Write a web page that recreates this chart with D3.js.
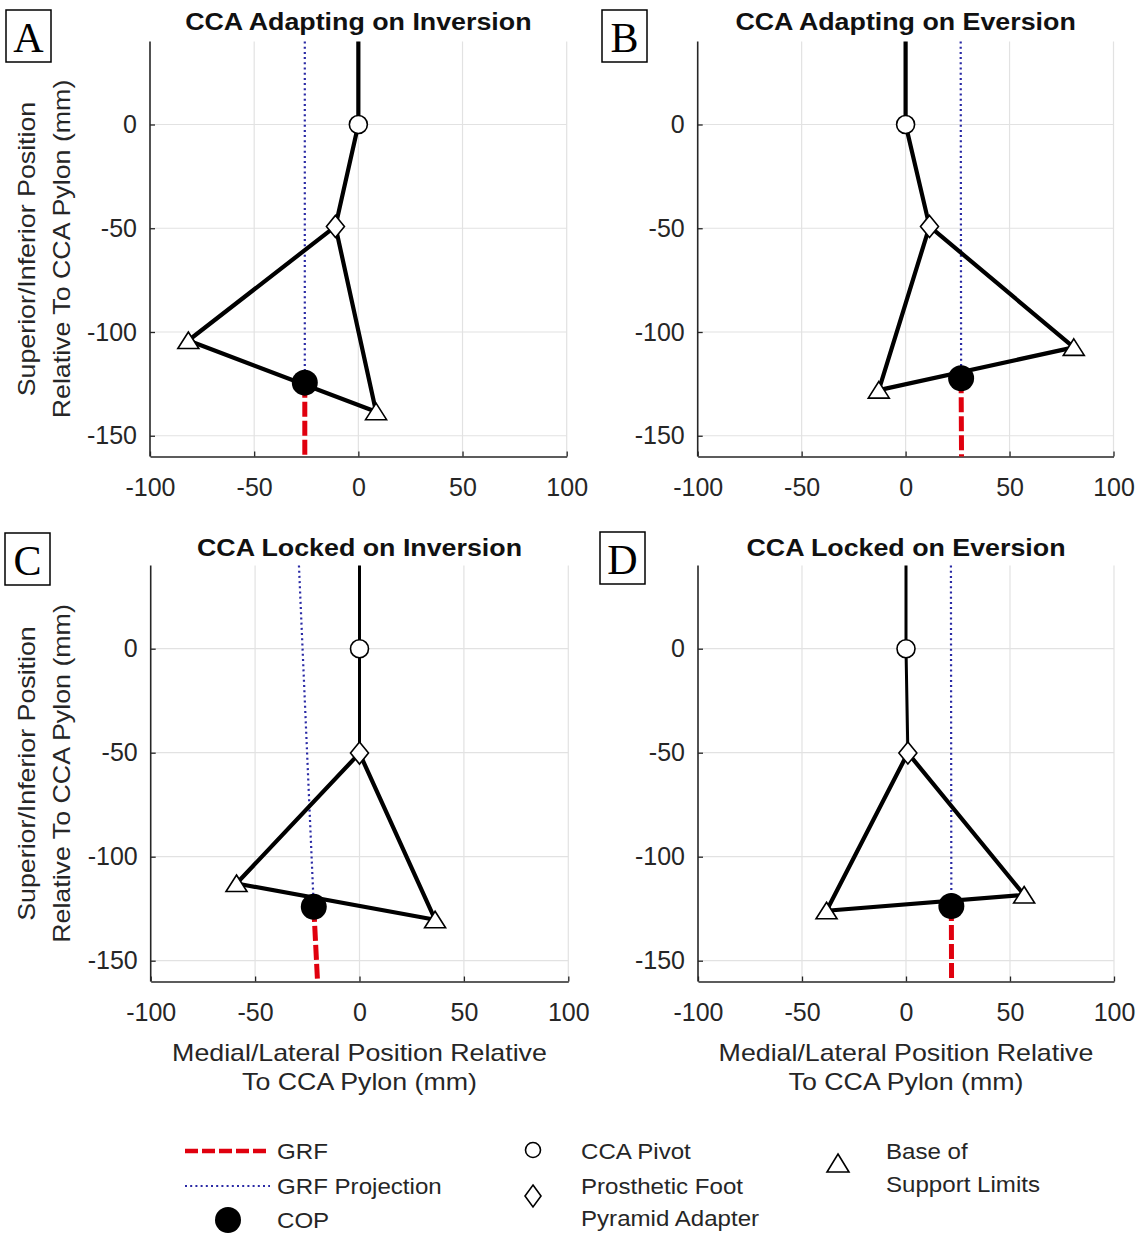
<!DOCTYPE html>
<html><head><meta charset="utf-8">
<script src="https://cdn.jsdelivr.net/npm/d3@7"></script>
<style>body{margin:0;background:#fff} svg{display:block}</style>
</head><body>
<svg id="chart" width="1139" height="1233"></svg>
<script>
// ---------------- data ----------------
const panelLetters = ["A", "B", "C", "D"];
const panelTitles = ["CCA Adapting on Inversion", "CCA Adapting on Eversion",
                     "CCA Locked on Inversion", "CCA Locked on Eversion"];
const pylonTopY = [40, 40, 40, 40];
const pivotX = [0, 0, 0, 0];
const pivotY = [0, 0, 0, 0];
const adapterX = [-11.0, 11.5, 0.0, 0.9];
const adapterY = [-49.1, -49.1, -50.2, -50.1];
const baseLeftX = [-81.6, -12.9, -58.9, -38.2];
const baseLeftY = [-104.1, -128.0, -112.9, -126.0];
const baseRightX = [8.5, 80.9, 36.2, 56.8];
const baseRightY = [-138.4, -107.4, -130.3, -118.4];
const copX = [-25.7, 26.7, -21.9, 21.8];
const copY = [-124.4, -122.3, -124.1, -123.7];
const grfTopX = [-25.7, 26.5, -29.0, 21.6];     // GRF projection where it leaves the top of the axes
const grfBottomX = [-25.7, 26.9, -20.1, 21.9];  // GRF where it leaves the bottom of the axes
const xDomain = [-100, 100];
const yDomain = [-160, 40];
const xTicks = [-100, -50, 0, 50, 100];
const yTicks = [-150, -100, -50, 0];
const yLabelLines = ["Superior/Inferior Position", "Relative To CCA Pylon (mm)"];
const xLabelLines = ["Medial/Lateral Position Relative", "To CCA Pylon (mm)"];
const legendCol1 = ["GRF", "GRF Projection", "COP"];
const legendCol2 = ["CCA Pivot", "Prosthetic Foot", "Pyramid Adapter"];
const legendCol3 = ["Base of", "Support Limits"];

// ---------------- layout ----------------
const layout = [
  {x0: 150,   x1: 566.7,  y0: 456.5, y1: 41.5,  ylab: true,  xlab: false, box: [6, 10],   titleY: 30,  pylonW: 4.2},
  {x0: 697.7, x1: 1113.5, y0: 456.5, y1: 41.5,  ylab: false, xlab: false, box: [602, 10], titleY: 30,  pylonW: 4.2},
  {x0: 150.7, x1: 568.3,  y0: 981.5, y1: 565.5, ylab: true,  xlab: true,  box: [5, 533],  titleY: 556, pylonW: 3},
  {x0: 698,   x1: 1114,   y0: 981.5, y1: 565.5, ylab: false, xlab: true,  box: [600, 532], titleY: 556, pylonW: 3}
];

const SANS = "'Liberation Sans', Arial, Helvetica, sans-serif";
const TXT = "#262626";
const RED = "#e0000e";
const BLUE = "#2a2aa5";
const svg = d3.select("#chart");

function stretch(sel, k) {
  sel.each(function () {
    const L = this.getComputedTextLength();
    this.setAttribute("textLength", (L * k).toFixed(1));
    this.setAttribute("lengthAdjust", "spacingAndGlyphs");
  });
}

const triPath = "M0,-8.5L10.5,8L-10.5,8Z";
const diaPath = "M0,-11L9,0L0,11L-9,0Z";
const fmt = d => String(d);

panelLetters.forEach((letter, i) => {
  const L = layout[i];
  const x = d3.scaleLinear().domain(xDomain).range([L.x0, L.x1]);
  const y = d3.scaleLinear().domain(yDomain).range([L.y0, L.y1]);
  const g = svg.append("g");

  // grid
  g.append("g").selectAll("line").data(xTicks.filter(t => t !== xDomain[0])).join("line")
    .attr("x1", d => x(d)).attr("x2", d => x(d)).attr("y1", y(yDomain[0])).attr("y2", y(yDomain[1]))
    .attr("stroke", "#e2e2e2").attr("stroke-width", 1.2);
  g.append("g").selectAll("line").data(yTicks).join("line")
    .attr("x1", x(xDomain[0])).attr("x2", x(xDomain[1])).attr("y1", d => y(d)).attr("y2", d => y(d))
    .attr("stroke", "#e2e2e2").attr("stroke-width", 1.2);

  // axes
  const ax = g.append("g").attr("transform", `translate(0,${L.y0})`)
    .call(d3.axisBottom(x).tickValues(xTicks).tickFormat(fmt).tickSizeInner(-5).tickSizeOuter(0).tickPadding(22));
  const ay = g.append("g").attr("transform", `translate(${L.x0},0)`)
    .call(d3.axisLeft(y).tickValues(yTicks).tickFormat(fmt).tickSizeInner(-5).tickSizeOuter(0).tickPadding(13));
  [ax, ay].forEach(a => {
    a.select(".domain").attr("stroke", TXT).attr("stroke-width", 1.6);
    a.selectAll(".tick line").attr("stroke", TXT).attr("stroke-width", 1.3);
    a.selectAll(".tick text").attr("fill", TXT).style("font-family", SANS).style("font-size", "25px");
  });
  ay.select(".domain").attr("d", `M0,${L.y0}V${L.y1}`);

  // GRF projection (dotted blue)
  g.append("line")
    .attr("x1", x(grfTopX[i])).attr("y1", y(yDomain[1]))
    .attr("x2", x(copX[i])).attr("y2", y(copY[i]))
    .attr("stroke", BLUE).attr("stroke-width", 2.2).attr("stroke-dasharray", "2,3.2");
  // GRF (dashed red)
  g.append("line")
    .attr("x1", x(copX[i])).attr("y1", y(copY[i]))
    .attr("x2", x(grfBottomX[i])).attr("y2", y(yDomain[0]))
    .attr("stroke", RED).attr("stroke-width", 5).attr("stroke-dasharray", "15,4");

  const line = d3.line().x(d => x(d[0])).y(d => y(d[1]));
  // pylon
  g.append("path")
    .attr("d", line([[pivotX[i], pylonTopY[i]], [pivotX[i], pivotY[i]], [adapterX[i], adapterY[i]]]))
    .attr("fill", "none").attr("stroke", "#000").attr("stroke-width", L.pylonW).attr("stroke-linejoin", "round");
  // base of support triangle
  g.append("path")
    .attr("d", line([[adapterX[i], adapterY[i]], [baseLeftX[i], baseLeftY[i]], [baseRightX[i], baseRightY[i]]]) + "Z")
    .attr("fill", "none").attr("stroke", "#000").attr("stroke-width", 4.2).attr("stroke-linejoin", "round");

  // markers
  g.append("circle").attr("cx", x(pivotX[i])).attr("cy", y(pivotY[i])).attr("r", 9)
    .attr("fill", "#fff").attr("stroke", "#000").attr("stroke-width", 1.6);
  g.append("path").attr("d", diaPath).attr("transform", `translate(${x(adapterX[i])},${y(adapterY[i])})`)
    .attr("fill", "#fff").attr("stroke", "#000").attr("stroke-width", 1.6);
  [[baseLeftX[i], baseLeftY[i]], [baseRightX[i], baseRightY[i]]].forEach(p => {
    g.append("path").attr("d", triPath).attr("transform", `translate(${x(p[0])},${y(p[1])})`)
      .attr("fill", "#fff").attr("stroke", "#000").attr("stroke-width", 1.6).attr("stroke-linejoin", "miter");
  });
  g.append("circle").attr("cx", x(copX[i])).attr("cy", y(copY[i])).attr("r", 13).attr("fill", "#000");

  // title
  const cx = (L.x0 + L.x1) / 2;
  g.append("text").attr("x", cx).attr("y", L.titleY).attr("text-anchor", "middle")
    .style("font-family", SANS).style("font-size", "23px").style("font-weight", "bold").attr("fill", "#111")
    .text(panelTitles[i]).call(stretch, 1.165);

  // panel letter box
  g.append("rect").attr("x", L.box[0]).attr("y", L.box[1]).attr("width", 45).attr("height", 52)
    .attr("fill", "#fff").attr("stroke", "#000").attr("stroke-width", 1.5);
  g.append("text").attr("x", L.box[0] + 22.5).attr("y", L.box[1] + 42).attr("text-anchor", "middle")
    .style("font-family", "'Liberation Serif', 'Times New Roman', serif").style("font-size", "42px")
    .attr("fill", "#000").text(letter);

  // y label
  if (L.ylab) {
    const cy = (L.y0 + L.y1) / 2;
    [35, 70].forEach((bx, j) => {
      g.append("text").attr("transform", `translate(${bx},${cy}) rotate(-90)`).attr("text-anchor", "middle")
        .style("font-family", SANS).style("font-size", "24px").attr("fill", TXT)
        .text(yLabelLines[j]).call(stretch, 1.115);
    });
  }
  // x label
  if (L.xlab) {
    [L.y0 + 79.5, L.y0 + 108].forEach((by, j) => {
      g.append("text").attr("x", cx).attr("y", by).attr("text-anchor", "middle")
        .style("font-family", SANS).style("font-size", "24px").attr("fill", TXT)
        .text(xLabelLines[j]).call(stretch, 1.115);
    });
  }
});

// ---------------- legend ----------------
const lg = svg.append("g");
const legText = (tx, ty, s) => lg.append("text").attr("x", tx).attr("y", ty + 7.8)
  .style("font-family", SANS).style("font-size", "22px").attr("fill", TXT).text(s).call(stretch, 1.095);

const rowY = [1151, 1186, 1220];
lg.append("line").attr("x1", 185).attr("x2", 270).attr("y1", rowY[0]).attr("y2", rowY[0])
  .attr("stroke", RED).attr("stroke-width", 4.5).attr("stroke-dasharray", "13,4");
lg.append("line").attr("x1", 185).attr("x2", 270).attr("y1", rowY[1]).attr("y2", rowY[1])
  .attr("stroke", BLUE).attr("stroke-width", 2).attr("stroke-dasharray", "2,3.2");
lg.append("circle").attr("cx", 228).attr("cy", rowY[2]).attr("r", 13).attr("fill", "#000");
legendCol1.forEach((s, j) => legText(277, rowY[j], s));

lg.append("circle").attr("cx", 533).attr("cy", 1150).attr("r", 7.5)
  .attr("fill", "#fff").attr("stroke", "#000").attr("stroke-width", 1.6);
lg.append("path").attr("d", "M0,-11L8,0L0,11L-8,0Z").attr("transform", "translate(533,1196)")
  .attr("fill", "#fff").attr("stroke", "#000").attr("stroke-width", 1.6);
legText(581, 1151, legendCol2[0]);
legText(581, 1186, legendCol2[1]);
legText(581, 1218, legendCol2[2]);

lg.append("path").attr("d", "M0,-9L11,9L-11,9Z").attr("transform", "translate(838,1163)")
  .attr("fill", "#fff").attr("stroke", "#000").attr("stroke-width", 1.6);
legText(886, 1151, legendCol3[0]);
legText(886, 1184, legendCol3[1]);
</script>
</body></html>
